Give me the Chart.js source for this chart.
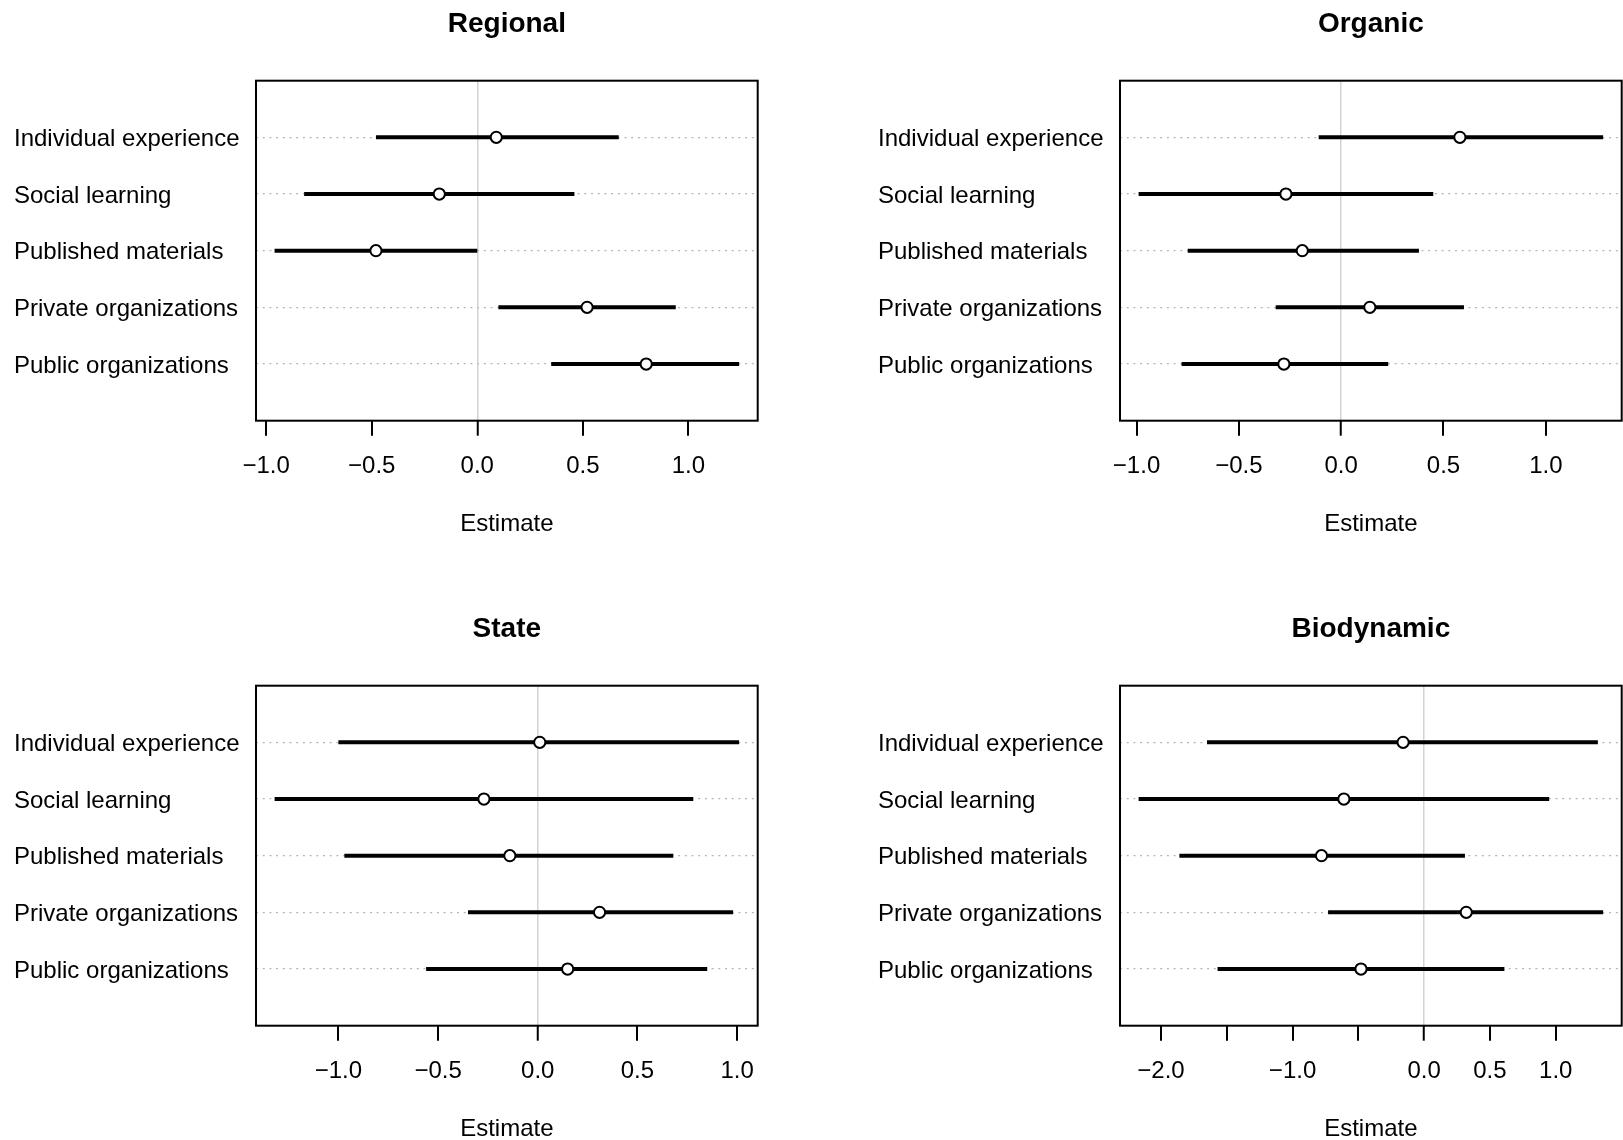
<!DOCTYPE html>
<html>
<head>
<meta charset="utf-8">
<title>Information sources by farm type</title>
<script src="https://cdn.jsdelivr.net/npm/chart.js@4/dist/chart.umd.min.js"></script>
<style>
  html, body { margin: 0; padding: 0; background: #ffffff; overflow: hidden; width: 1623px; height: 1140px; }
  .panel { position: absolute; width: 800px; height: 535px; }
  .panel canvas { display: block; }
</style>
</head>
<body>
<div class="panel" style="left:0px;top:0px"><canvas id="panel0" width="800" height="535"></canvas></div>
<div class="panel" style="left:864px;top:0px"><canvas id="panel1" width="800" height="535"></canvas></div>
<div class="panel" style="left:0px;top:605px"><canvas id="panel2" width="800" height="535"></canvas></div>
<div class="panel" style="left:864px;top:605px"><canvas id="panel3" width="800" height="535"></canvas></div>

<script>
// Information sources, listed top to bottom
const sources = ['Individual experience', 'Social learning', 'Published materials', 'Private organizations', 'Public organizations'];
const rowPositions = [1, 2, 3, 4, 5];

const panelTitles = ['Regional', 'Organic', 'State', 'Biodynamic'];
const axisTitle = 'Estimate';

// Point estimates with lower / upper interval bounds
const regionalEstimate = [0.09, -0.18, -0.48, 0.52, 0.80];
const regionalLower    = [-0.48, -0.82, -0.96, 0.10, 0.35];
const regionalUpper    = [0.67, 0.46, 0.00, 0.94, 1.24];

const organicEstimate  = [0.58, -0.27, -0.19, 0.14, -0.28];
const organicLower     = [-0.11, -0.99, -0.75, -0.32, -0.78];
const organicUpper     = [1.28, 0.45, 0.38, 0.60, 0.23];

const stateEstimate    = [0.01, -0.27, -0.14, 0.31, 0.15];
const stateLower       = [-1.00, -1.32, -0.97, -0.35, -0.56];
const stateUpper       = [1.01, 0.78, 0.68, 0.98, 0.85];

const biodynamicEstimate = [-0.16, -0.61, -0.78, 0.32, -0.48];
const biodynamicLower    = [-1.65, -2.17, -1.86, -0.73, -1.57];
const biodynamicUpper    = [1.32, 0.95, 0.31, 1.36, 0.61];

// Axis ticks
const standardTicks      = [-1, -0.5, 0, 0.5, 1];
const standardTickLabels = ['\u22121.0', '\u22120.5', '0.0', '0.5', '1.0'];
const biodynamicTicks      = [-2, -1.5, -1, -0.5, 0, 0.5, 1];
const biodynamicTickLabels = ['\u22122.0', '', '\u22121.0', '', '0.0', '0.5', '1.0'];

const panels = [
  { title: panelTitles[0], est: regionalEstimate,   lo: regionalLower,   hi: regionalUpper,   ticks: standardTicks,   labels: standardTickLabels },
  { title: panelTitles[1], est: organicEstimate,    lo: organicLower,    hi: organicUpper,    ticks: standardTicks,   labels: standardTickLabels },
  { title: panelTitles[2], est: stateEstimate,      lo: stateLower,      hi: stateUpper,      ticks: standardTicks,   labels: standardTickLabels },
  { title: panelTitles[3], est: biodynamicEstimate, lo: biodynamicLower, hi: biodynamicUpper, ticks: biodynamicTicks, labels: biodynamicTickLabels }
];

const FONT = "'Liberation Sans', Arial, Helvetica, sans-serif";

// Plot frame drawn round the chart area
const framePlugin = {
  id: 'frame',
  afterDatasetsDraw(chart) {
    const { ctx, chartArea: a } = chart;
    ctx.save();
    ctx.strokeStyle = '#000000';
    ctx.lineWidth = 2;
    ctx.strokeRect(a.left, a.top, a.right - a.left, a.bottom - a.top);
    ctx.restore();
  }
};

function buildPanel(canvasId, p) {
  // Axis range padded by 4% of the data span on each side
  const dataMin = Math.min(...p.lo);
  const dataMax = Math.max(...p.hi);
  const span = dataMax - dataMin;
  const xMin = dataMin - 0.04 * span;
  const xMax = dataMax + 0.04 * span;

  const datasets = [];
  // Estimates drawn as open circles on top
  datasets.push({
    label: 'estimate',
    data: rowPositions.map((r, i) => ({ x: p.est[i], y: r })),
    pointStyle: 'circle',
    pointRadius: 5.6,
    pointBorderWidth: 2,
    pointBorderColor: '#000000',
    pointBackgroundColor: '#ffffff',
    showLine: false,
    order: 0
  });
  // Interval segments
  rowPositions.forEach((r, i) => {
    datasets.push({
      label: sources[i],
      data: [{ x: p.lo[i], y: r }, { x: p.hi[i], y: r }],
      showLine: true,
      borderColor: '#000000',
      borderWidth: 4,
      borderCapStyle: 'butt',
      pointRadius: 0,
      pointHoverRadius: 0,
      order: 1
    });
  });

  return new Chart(document.getElementById(canvasId), {
    type: 'scatter',
    data: { datasets },
    plugins: [framePlugin],
    options: {
      responsive: false,
      animation: false,
      events: [],
      layout: { padding: { left: 14, right: 42.3, top: 0, bottom: 0 } },
      plugins: {
        legend: { display: false },
        tooltip: { enabled: false },
        title: {
          display: true,
          text: p.title,
          fullSize: false,
          color: '#000000',
          font: { family: FONT, size: 28, weight: 'bold', lineHeight: 1.2 },
          padding: { top: 7.9, bottom: 39.2 }
        }
      },
      scales: {
        x: {
          type: 'linear',
          position: 'bottom',
          min: xMin,
          max: xMax,
          afterBuildTicks: (axis) => { axis.ticks = p.ticks.map(v => ({ value: v })); },
          afterFit: (axis) => { axis.height = 114.3; },
          ticks: {
            autoSkip: false,
            maxRotation: 0,
            minRotation: 0,
            padding: 16.5,
            color: '#000000',
            font: { family: FONT, size: 24, lineHeight: 1.2 },
            callback: (value, index) => p.labels[index]
          },
          grid: {
            drawOnChartArea: true,
            drawTicks: true,
            tickLength: 15,
            tickWidth: 2,
            tickColor: '#000000',
            color: '#d3d3d3',
            lineWidth: (c) => (c.tick && c.tick.value === 0 ? 1.5 : 0)
          },
          border: { display: false },
          title: {
            display: true,
            text: axisTitle,
            color: '#000000',
            font: { family: FONT, size: 24, lineHeight: 0.9 },
            padding: { top: 0, bottom: 0 }
          }
        },
        y: {
          type: 'linear',
          position: 'left',
          min: 0,
          max: 6,
          reverse: true,
          afterBuildTicks: (axis) => { axis.ticks = rowPositions.map(v => ({ value: v })); },
          afterFit: (axis) => { axis.width = 242; },
          ticks: {
            autoSkip: false,
            crossAlign: 'far',
            padding: 10,
            labelOffset: 2,
            color: '#000000',
            font: { family: FONT, size: 24, lineHeight: 1.2 },
            callback: (value, index) => sources[index]
          },
          grid: {
            drawOnChartArea: true,
            drawTicks: false,
            color: '#b5b5b5',
            lineWidth: 1.3
          },
          border: { display: false, dash: [2, 4.7] }
        }
      }
    }
  });
}

panels.forEach((p, i) => buildPanel('panel' + i, p));
</script>
</body>
</html>
